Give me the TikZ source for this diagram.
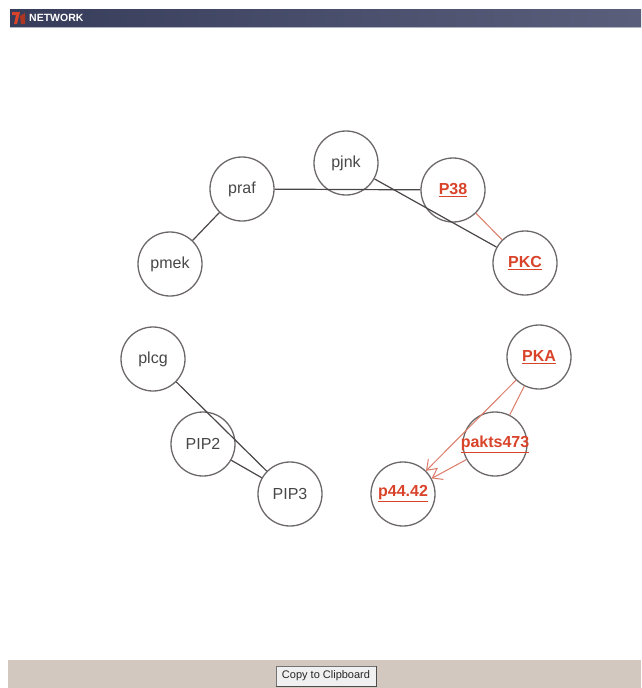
\documentclass[tikz,border=0pt]{standalone}
\usepackage{fontspec}
\setmainfont{Liberation Sans}
\usetikzlibrary{arrows.meta}

\definecolor{edgegray}{HTML}{4A4646}
\definecolor{circgray}{HTML}{6C6868}
\definecolor{hitred}{HTML}{D8432A}
\definecolor{linkred}{HTML}{DC7A68}
\definecolor{barblue}{HTML}{3C4364}
\definecolor{barbase}{HTML}{D3C8BF}

\begin{document}
\begin{tikzpicture}[x=1pt, y=-1pt,
      gene/.style = {circle, draw=circgray, line width=1.3pt, minimum size=64pt,
                     inner sep=0pt, text=black!72,
                     font=\fontsize{16}{18}\selectfont,
                     node contents={\makebox[0pt]{#1}}},
       hit/.style = {circle, draw=circgray, line width=1.3pt, minimum size=64pt,
                     inner sep=0pt, text=hitred,
                     font=\fontsize{16}{18}\selectfont\bfseries,
                     node contents={\makebox[0pt]{\underline{#1}}}},
      link/.style = {draw=edgegray, line width=1.2pt},
   redlink/.style = {draw=linkred, line width=1pt},
    redarr/.style = {redlink, -{Straight Barb[length=9pt,width=13pt]}}
                        ]
\useasboundingbox (0,0) rectangle (641,688);
% window frame
\shade[left color=barblue!90!black, right color=barblue!85!white]
      (10,9) rectangle (641,27);
\draw[barblue!40!white, line width=0.8pt] (10,27.5) -- (641,27.5);
\fill[hitred] (12,12) -- (20,12) -- (17,24) -- (14,24) -- (16,15) -- (12,15) -- cycle;
\fill[hitred!80!black] (20,16) -- (25,13) -- (25,24) -- (21,24) -- cycle;
\node (title) at (29,18) [anchor=west, inner sep=0pt, text=white,
      font=\fontsize{10.5}{12}\selectfont\bfseries] {NETWORK};
\fill[barbase] (8,660) rectangle (641,688);
\node (copy) at (326,676) [draw=black!55, fill=black!6, minimum width=100pt,
      minimum height=20pt, inner sep=0pt, text=black!85,
      font=\fontsize{11}{13}\selectfont] {Copy to Clipboard};
\draw[black!70, line width=1.2pt] (copy.south west) -- (copy.south east) -- (copy.north east);

\node (pjnk) at (346,163) [gene=pjnk];
\node (praf) at (242,189) [gene=praf];
\node (pmek) at (170,264) [gene=pmek];
\node (P38) at (453,190) [hit=P38];
\node (PKC) at (525,263) [hit=PKC];
\node (plcg) at (153,359) [gene=plcg];
\node (PIP2) at (203,444) [gene=PIP2];
\node (PIP3) at (290,494) [gene=PIP3];
\node (PKA) at (539,357) [hit=PKA];
\node (pakts473) at (495,444) [hit=pakts473];
\node (p44x42) at (403,494) [hit=p44.42];

%

\path   (praf) edge[link] (pmek)
        (praf) edge[link] (P38)
        (pjnk) edge[link] (PKC)
        (P38) edge[redlink] (PKC)
        (plcg) edge[link] (PIP3)
        (PIP2) edge[link] (PIP3)
        (PKA) edge[redlink] (pakts473)
        (PKA) edge[redarr] (p44x42)
        (pakts473) edge[redarr] (p44x42);
\end{tikzpicture}
\end{document}
